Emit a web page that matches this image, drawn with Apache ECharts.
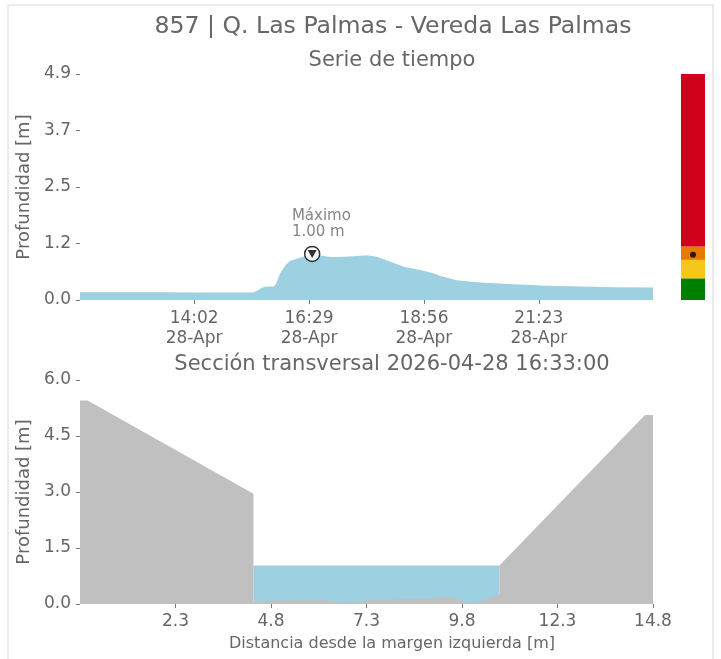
<!DOCTYPE html>
<html>
<head>
<meta charset="utf-8">
<style>html,body{margin:0;padding:0;background:#fff}#c{width:721px;height:659px}</style>
<script src="https://cdn.jsdelivr.net/npm/echarts@6/dist/echarts.min.js"></script>
</head>
<body>
<div id="c"></div>
<script>
// ---- time series (time of day, depth in m) ----
const times = ['11:36','12:27','13:18','14:10','15:01','15:18','15:22','15:29','15:35','15:44','15:47','15:52','15:59','16:05','16:14','16:24','16:33','16:46','16:56','17:09','17:26','17:43','17:56','18:13','18:30','18:51','19:08','19:17','19:38','20:08','20:51','21:33','22:16','22:59','23:49'];
const depth = [0.17,0.17,0.17,0.165,0.165,0.16,0.195,0.27,0.29,0.29,0.36,0.58,0.76,0.85,0.90,0.95,1.00,0.96,0.93,0.93,0.95,0.97,0.94,0.83,0.72,0.65,0.58,0.52,0.43,0.38,0.34,0.31,0.29,0.275,0.27];
const timeTicks = ['14:02','16:29','18:56','21:23'];
const dateLabel = '28-Apr';
const depthTickLabels = ['0.0','1.2','2.5','3.7','4.9'];
const depthMax = 4.9;

// ---- alert levels (upper limits, m) ----
const levelLimits = [0.47, 0.87, 1.16, 4.9];
const levelColors = ['#008000','#f5c71a','#e57c00','#d0021b'];
const currentLevel = 0.98;

// ---- cross section ----
const sectionX = [-0.2, 0, 4.34, 4.34, 4.9, 6.17, 6.78, 7.13, 7.48, 8.79, 9.49, 10.1, 10.78, 10.78, 14.59, 14.8];
const sectionY = [5.45, 5.45, 2.95, 0.06, 0.09, 0.10, 0.035, 0.06, 0.115, 0.14, 0.19, 0.0, 0.26, 1.03, 5.06, 5.06];
const waterX = [4.34, 10.78];
const waterY = [1.03, 1.03];
const distTicks = [2.3, 4.8, 7.3, 9.8, 12.3, 14.8];

const toMin = s => { const p = s.split(':'); return (+p[0]) * 60 + (+p[1]); };
const fmtMin = m => String(Math.floor(m / 60)).padStart(2, '0') + ':' + String(Math.round(m % 60)).padStart(2, '0');

const tsData = times.map((t, i) => [toMin(t), depth[i]]);
let maxI = 0; depth.forEach((d, i) => { if (d > depth[maxI]) maxI = i; });
const maxPt = tsData[maxI];

const secData = sectionX.map((x, i) => [x, sectionY[i]]);
const watData = waterX.map((x, i) => [x, waterY[i]]);
const levelInc = levelLimits.map((v, i) => +(v - (i ? levelLimits[i - 1] : 0)).toFixed(3));

const TXT = '#666';
const FONT = 'DejaVu Sans';

const chart = echarts.init(document.getElementById('c'), null, { renderer: 'canvas' });
chart.setOption({
  animation: false,
  backgroundColor: '#fff',
  textStyle: { fontFamily: FONT, color: TXT },
  graphic: [
    { type: 'rect', shape: { x: 8, y: 5, width: 705, height: 670 }, style: { fill: 'none', stroke: '#e6e6e6', lineWidth: 1.5 }, silent: true },
    { type: 'text', x: 393, y: 27, style: { text: '857 | Q. Las Palmas - Vereda Las Palmas', font: '23.6px "DejaVu Sans"', fill: TXT, textAlign: 'center', textVerticalAlign: 'middle' } },
    { type: 'text', x: 392, y: 61, style: { text: 'Serie de tiempo', font: '21px "DejaVu Sans"', fill: TXT, textAlign: 'center', textVerticalAlign: 'middle' } },
    { type: 'text', x: 392, y: 365, style: { text: 'Sección transversal 2026-04-28 16:33:00', font: '21px "DejaVu Sans"', fill: TXT, textAlign: 'center', textVerticalAlign: 'middle' } },
    { type: 'text', x: 392, y: 644, style: { text: 'Distancia desde la margen izquierda [m]', font: '16px "DejaVu Sans"', fill: TXT, textAlign: 'center', textVerticalAlign: 'middle' } }
  ],
  grid: [
    { left: 80, top: 74, width: 573, height: 226 },
    { left: 80, top: 380, width: 573, height: 224 },
    { left: 681, top: 74, width: 24, height: 226 }
  ],
  xAxis: [
    {
      gridIndex: 0, type: 'value', min: toMin(times[0]), max: toMin(times[times.length - 1]),
      axisLine: { show: false, onZero: false }, splitLine: { show: false },
      axisTick: { show: true, length: 4, lineStyle: { color: '#777' }, customValues: timeTicks.map(toMin) },
      axisLabel: { color: TXT, fontSize: 17, fontFamily: FONT, margin: 9, lineHeight: 20, hideOverlap: false,
        customValues: timeTicks.map(toMin), formatter: v => fmtMin(v) + '\n' + dateLabel }
    },
    {
      gridIndex: 1, type: 'value', min: -0.2, max: 14.8,
      axisLine: { show: false, onZero: false }, splitLine: { show: false },
      axisTick: { show: true, length: 4, lineStyle: { color: '#777' }, customValues: distTicks },
      axisLabel: { color: TXT, fontSize: 17, fontFamily: FONT, margin: 9, hideOverlap: false,
        customValues: distTicks, formatter: v => v.toFixed(1) }
    },
    { gridIndex: 2, type: 'category', data: [''], show: false }
  ],
  yAxis: [
    {
      gridIndex: 0, type: 'value', min: 0, max: depthMax, interval: depthMax / 4,
      name: 'Profundidad [m]', nameLocation: 'middle', nameGap: 39, nameRotate: 90,
      nameTextStyle: { color: TXT, fontSize: 18, fontFamily: FONT },
      axisLine: { show: false, onZero: false }, splitLine: { show: false },
      axisTick: { show: true, length: 4, lineStyle: { color: '#777' } },
      axisLabel: { color: TXT, fontSize: 17, fontFamily: FONT, margin: 9,
        formatter: v => depthTickLabels[Math.round(v / (depthMax / 4))] }
    },
    {
      gridIndex: 1, type: 'value', min: 0, max: 6, interval: 1.5,
      name: 'Profundidad [m]', nameLocation: 'middle', nameGap: 39, nameRotate: 90,
      nameTextStyle: { color: TXT, fontSize: 18, fontFamily: FONT },
      axisLine: { show: false, onZero: false }, splitLine: { show: false },
      axisTick: { show: true, length: 4, lineStyle: { color: '#777' } },
      axisLabel: { color: TXT, fontSize: 17, fontFamily: FONT, margin: 9, formatter: v => v.toFixed(1) }
    },
    { gridIndex: 2, type: 'value', min: 0, max: depthMax, show: false }
  ],
  series: [
    {
      type: 'line', xAxisIndex: 0, yAxisIndex: 0, data: tsData, showSymbol: false, smooth: false,
      lineStyle: { width: 0 }, areaStyle: { color: '#9dd0e0', opacity: 1 }, silent: true
    },
    {
      type: 'scatter', xAxisIndex: 0, yAxisIndex: 0, data: [maxPt], symbol: 'circle', symbolSize: 15, z: 5,
      itemStyle: { color: '#fff', borderColor: '#000', borderWidth: 1.5 },
      label: { show: true, position: [-12, -38], align: 'left', verticalAlign: 'top', lineHeight: 16,
        color: TXT, fontSize: 15, fontFamily: FONT,
        formatter: p => 'Máximo\n' + p.value[1].toFixed(2) + ' m' }
    },
    {
      type: 'scatter', xAxisIndex: 0, yAxisIndex: 0, data: [maxPt], symbol: 'triangle', symbolRotate: 180,
      symbolSize: [9, 8], z: 6, itemStyle: { color: '#000' }
    },
    {
      type: 'line', xAxisIndex: 1, yAxisIndex: 1, data: watData, showSymbol: false,
      lineStyle: { width: 0 }, areaStyle: { color: '#9dd0e0', opacity: 1 }, z: 2, silent: true
    },
    {
      type: 'line', xAxisIndex: 1, yAxisIndex: 1, data: secData, showSymbol: false,
      lineStyle: { width: 0 }, areaStyle: { color: '#c0c0c0', opacity: 1 }, z: 3, silent: true
    },
    ...levelInc.map((v, i) => ({
      type: 'bar', xAxisIndex: 2, yAxisIndex: 2, stack: 'lvl', data: [v], barWidth: '100%',
      itemStyle: { color: levelColors[i] }, silent: true
    })),
    {
      type: 'scatter', xAxisIndex: 2, yAxisIndex: 2, data: [[0, currentLevel]], symbolSize: 6, z: 5,
      itemStyle: { color: '#000' }
    }
  ]
});
</script>
</body>
</html>
